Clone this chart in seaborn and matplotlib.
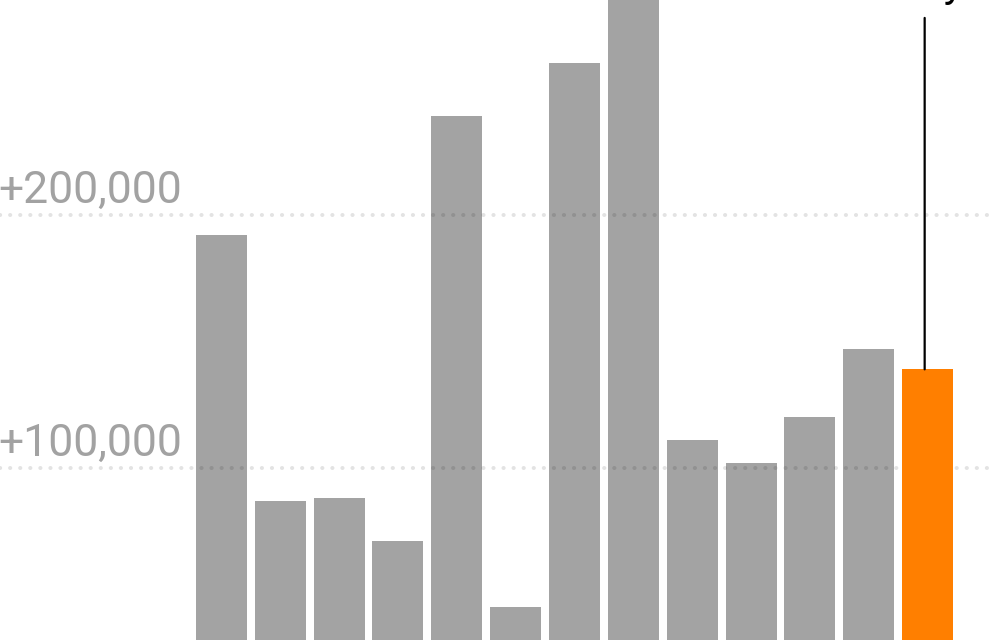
import matplotlib
matplotlib.use("Agg")
import matplotlib.pyplot as plt
import pandas as pd
import seaborn as sns

# monthly change, 13 months, last one highlighted
months = ["Jan", "Feb", "Mar", "Apr", "May", "Jun", "Jul",
          "Aug", "Sep", "Oct", "Nov", "Dec", "January"]
change = [192000, 87000, 88000, 71000, 239000, 45000, 260000,
          295000, 111000, 102000, 120000, 147000, 139000]
highlight = [False] * 12 + [True]
grid_values = [100000, 200000]
grid_labels = ["+100,000", "+200,000"]
callout = "January"

df = pd.DataFrame({"month": months, "change": change, "hl": highlight})

sns.set_style("white")
plt.rcParams["font.family"] = ["Roboto", "DejaVu Sans"]

fig = plt.figure(figsize=(10, 6.4), dpi=100)
ax = fig.add_axes([0, 0, 1, 1])

sns.barplot(data=df, x="month", y="change", hue="hl",
            palette={False: "#a3a3a3", True: "#ff7f00"},
            dodge=False, width=0.867, legend=False, linewidth=0,
            saturation=1, ax=ax)

# grey bars under the dotted grid, orange one above it
for p in ax.patches:
    if p.get_facecolor()[0] > 0.9:
        p.set_zorder(4)
    else:
        p.set_zorder(1)

for val, lab in zip(grid_values, grid_labels):
    ax.axhline(val, xmin=0, xmax=0.992, color="black", alpha=0.11,
               lw=2.9, linestyle=(0, (0.05, 2.45)), dash_capstyle="round",
               zorder=2)
    ax.annotate(lab, xy=(0, val), xycoords=("axes fraction", "data"),
                xytext=(-1, 8.5), textcoords="offset points",
                ha="left", va="baseline", fontsize=32,
                fontweight="normal", color="#a2a2a2")

# callout line to the last bar
last = len(change) - 1
ax.annotate("", xy=(last - 0.05, change[last]), xycoords="data",
            xytext=(last - 0.05, 0.972),
            textcoords=("data", "axes fraction"),
            arrowprops=dict(arrowstyle="-", lw=1.6, color="black",
                            shrinkA=0, shrinkB=0), zorder=5)
ax.annotate(callout, xy=(last - 0.05, 1.0),
            xycoords=("data", "axes fraction"),
            xytext=(29, 3), textcoords="offset points",
            ha="right", va="baseline", fontsize=31, color="black",
            annotation_clip=False)

ax.set_xlim(-3.76, 13.23)
ax.set_ylim(32000, 285000)
ax.axis("off")

fig.savefig("out.png", dpi=100)
